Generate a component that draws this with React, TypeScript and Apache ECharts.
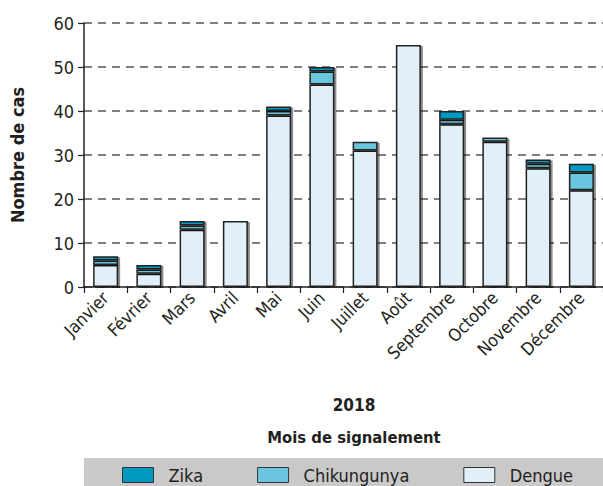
import React, { useEffect, useRef } from "react";
import * as echarts from "echarts";

const months = ["Janvier", "Février", "Mars", "Avril", "Mai", "Juin", "Juillet", "Août", "Septembre", "Octobre", "Novembre", "Décembre"];
const dengue = [5, 3, 13, 15, 39, 46, 31, 55, 37, 33, 27, 22];
const chikungunya = [1, 1, 1, 0, 1, 3, 2, 0, 1, 1, 1, 4];
const zika = [1, 1, 1, 0, 1, 1, 0, 0, 2, 0, 1, 2];

const FONT = "'Liberation Sans Narrow', 'DejaVu Sans Condensed', sans-serif";
const TXT = "#231f20";

export default function App() {
  const ref = useRef<HTMLDivElement>(null);
  useEffect(() => {
    document.body.style.margin = "0";
    if (!ref.current) return;
    const chart = echarts.init(ref.current, undefined, { renderer: "svg" });
    const barStyle = (color: string) => ({
      color,
      borderColor: "#222",
      borderWidth: 1.5,
      shadowColor: "rgba(0,0,0,0.45)",
      shadowBlur: 1,
      shadowOffsetX: 2,
      shadowOffsetY: 1,
    });
    const mk = (name: string, data: number[], color: string) => ({
      name,
      type: "bar",
      stack: "cas",
      barWidth: 25,
      data: data.map((v) => (v === 0 ? null : v)),
      itemStyle: barStyle(color),
      emphasis: { disabled: true },
    });
    chart.setOption({
      animation: false,
      textStyle: { fontFamily: FONT },
      grid: { left: 84, top: 23, width: 526, height: 264 },
      xAxis: {
        type: "category",
        data: months,
        axisLine: { lineStyle: { color: "#222", width: 1.5 } },
        axisTick: { show: true, length: 6, lineStyle: { color: "#222", width: 1.2 } },
        axisLabel: { rotate: 45, fontSize: 17.5, color: TXT, margin: 8, fontFamily: FONT, interval: 0 },
      },
      yAxis: {
        type: "value",
        min: 0,
        max: 60,
        interval: 10,
        axisLine: { show: true, lineStyle: { color: "#222", width: 1.5 } },
        axisTick: { show: true, length: 6, lineStyle: { color: "#222", width: 1.2 } },
        axisLabel: { fontSize: 18, color: TXT, margin: 10, fontFamily: FONT },
        splitLine: { show: true, lineStyle: { color: "#555", width: 1.5, type: [8, 6] } },
        name: "Nombre de cas",
        nameLocation: "middle",
        nameGap: 58,
        nameTextStyle: { fontSize: 18, fontWeight: "bold", color: TXT, fontFamily: FONT },
      },
      legend: {
        data: ["Zika", "Chikungunya", "Dengue"],
        left: 122,
        top: 466,
        padding: 0,
        icon: "rect",
        itemWidth: 31,
        itemHeight: 15,
        itemGap: 54,
        z: 10,
        textStyle: { fontSize: 18, color: TXT, fontFamily: FONT, padding: [0, 0, 0, 10] },
        itemStyle: { borderColor: "#333", borderWidth: 1, shadowBlur: 0, shadowOffsetX: 0, shadowOffsetY: 0 },
      },
      graphic: [
        { type: "rect", z: 0, shape: { x: 84, y: 458, width: 530, height: 30 }, style: { fill: "#c9c9c9" } },
        { type: "text", x: 354, y: 405, style: { text: "2018", font: `bold 17px ${FONT}`, fill: TXT, align: "center", verticalAlign: "middle" } },
        { type: "text", x: 354, y: 437, style: { text: "Mois de signalement", font: `bold 16.5px ${FONT}`, fill: TXT, align: "center", verticalAlign: "middle" } },
      ],
      series: [
        mk("Dengue", dengue, "#e1f0f8"),
        mk("Chikungunya", chikungunya, "#6bc5de"),
        mk("Zika", zika, "#0099c2"),
      ],
    });
    return () => chart.dispose();
  }, []);
  return <div ref={ref} style={{ width: 603, height: 486 }} />;
}
